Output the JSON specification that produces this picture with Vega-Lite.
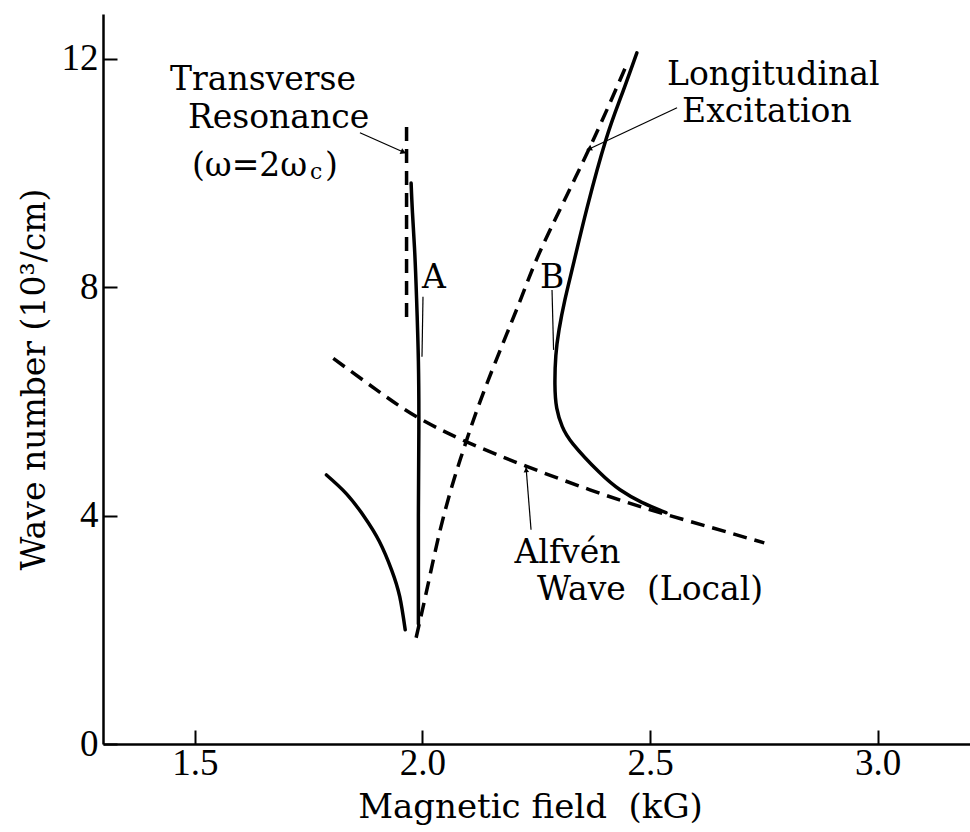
{
  "$schema": "https://vega.github.io/schema/vega-lite/v6.json",
  "width": 867,
  "height": 730,
  "autosize": {"type": "none"},
  "padding": {"left": 103, "top": 14, "right": 0, "bottom": 88},
  "background": "white",
  "config": {
    "view": {"stroke": null},
    "axis": {
      "grid": false,
      "domainColor": "#000",
      "domainWidth": 2.5,
      "tickColor": "#000",
      "tickWidth": 2,
      "tickSize": -14,
      "labelFont": "Liberation Serif",
      "labelFontSize": 37,
      "labelColor": "#000",
      "labelFlush": false,
      "labelOverlap": false,
      "titleFont": "DejaVu Serif",
      "titleFontWeight": "normal",
      "titleColor": "#000"
    }
  },
  "datasets": {
    "solid": [
      {"c": "left", "i": 1, "B": 1.789, "K": 4.71},
      {"c": "left", "i": 2, "B": 1.833, "K": 4.38},
      {"c": "left", "i": 3, "B": 1.872, "K": 3.98},
      {"c": "left", "i": 4, "B": 1.905, "K": 3.55},
      {"c": "left", "i": 5, "B": 1.932, "K": 3.05},
      {"c": "left", "i": 6, "B": 1.950, "K": 2.58},
      {"c": "left", "i": 7, "B": 1.962, "K": 2.0},
      {"c": "A", "i": 1, "B": 1.975, "K": 9.82},
      {"c": "A", "i": 2, "B": 1.978, "K": 9.30},
      {"c": "A", "i": 3, "B": 1.983, "K": 8.6},
      {"c": "A", "i": 4, "B": 1.987, "K": 7.8},
      {"c": "A", "i": 5, "B": 1.991, "K": 6.7},
      {"c": "A", "i": 6, "B": 1.992, "K": 5.5},
      {"c": "A", "i": 7, "B": 1.991, "K": 4.0},
      {"c": "A", "i": 8, "B": 1.991, "K": 2.1},
      {"c": "B", "i": 1, "B": 2.471, "K": 12.10},
      {"c": "B", "i": 2, "B": 2.437, "K": 11.35},
      {"c": "B", "i": 3, "B": 2.403, "K": 10.58},
      {"c": "B", "i": 4, "B": 2.362, "K": 9.40},
      {"c": "B", "i": 5, "B": 2.333, "K": 8.45},
      {"c": "B", "i": 6, "B": 2.313, "K": 7.78},
      {"c": "B", "i": 7, "B": 2.300, "K": 7.25},
      {"c": "B", "i": 8, "B": 2.293, "K": 6.80},
      {"c": "B", "i": 9, "B": 2.291, "K": 6.30},
      {"c": "B", "i": 10, "B": 2.295, "K": 5.88},
      {"c": "B", "i": 11, "B": 2.307, "K": 5.56},
      {"c": "B", "i": 12, "B": 2.331, "K": 5.25},
      {"c": "B", "i": 13, "B": 2.388, "K": 4.76},
      {"c": "B", "i": 14, "B": 2.434, "K": 4.45},
      {"c": "B", "i": 15, "B": 2.482, "K": 4.23},
      {"c": "B", "i": 16, "B": 2.535, "K": 4.05}
    ],
    "dashed": [
      {"c": "alfven", "i": 1, "B": 1.804, "K": 6.75},
      {"c": "alfven", "i": 2, "B": 1.899, "K": 6.20},
      {"c": "alfven", "i": 3, "B": 1.987, "K": 5.73},
      {"c": "alfven", "i": 4, "B": 2.097, "K": 5.29},
      {"c": "alfven", "i": 5, "B": 2.229, "K": 4.86},
      {"c": "alfven", "i": 6, "B": 2.368, "K": 4.45},
      {"c": "alfven", "i": 7, "B": 2.501, "K": 4.10},
      {"c": "alfven", "i": 8, "B": 2.630, "K": 3.80},
      {"c": "alfven", "i": 9, "B": 2.751, "K": 3.52},
      {"c": "rising", "i": 1, "B": 1.986, "K": 1.86},
      {"c": "rising", "i": 2, "B": 2.011, "K": 2.75},
      {"c": "rising", "i": 3, "B": 2.038, "K": 3.72},
      {"c": "rising", "i": 4, "B": 2.068, "K": 4.60},
      {"c": "rising", "i": 5, "B": 2.097, "K": 5.32},
      {"c": "rising", "i": 6, "B": 2.141, "K": 6.30},
      {"c": "rising", "i": 7, "B": 2.214, "K": 7.75},
      {"c": "rising", "i": 8, "B": 2.265, "K": 8.74},
      {"c": "rising", "i": 9, "B": 2.362, "K": 10.35},
      {"c": "rising", "i": 10, "B": 2.449, "K": 11.90},
      {"c": "transverse", "i": 1, "B": 1.965, "K": 10.80},
      {"c": "transverse", "i": 2, "B": 1.965, "K": 7.46}
    ],
    "thin": [
      {"c": "leaderA", "i": 1, "B": 2.0011, "K": 7.83},
      {"c": "leaderA", "i": 2, "B": 1.9989, "K": 6.78},
      {"c": "leaderB", "i": 1, "B": 2.2846, "K": 7.95},
      {"c": "leaderB", "i": 2, "B": 2.2880, "K": 6.90},
      {"c": "arrT", "i": 1, "B": 1.8626, "K": 10.70},
      {"c": "arrT", "i": 2, "B": 1.9615, "K": 10.35},
      {"c": "arrE", "i": 1, "B": 2.5593, "K": 11.14},
      {"c": "arrE", "i": 2, "B": 2.3615, "K": 10.40},
      {"c": "arrA", "i": 1, "B": 2.2385, "K": 3.75},
      {"c": "arrA", "i": 2, "B": 2.2275, "K": 4.85}
    ],
    "heads": [
      {"c": "arrT", "B": 1.9580, "K": 10.36},
      {"c": "arrE", "B": 2.3660, "K": 10.42},
      {"c": "arrA", "B": 2.2278, "K": 4.80}
    ],
    "labels": [
      {"t": "Transverse", "B": 1.4451, "K": 11.45},
      {"t": "Resonance", "B": 1.4846, "K": 10.79},
      {"t": "(ω=2ω", "B": 1.4934, "K": 9.95},
      {"t": ")", "B": 1.7857, "K": 9.95},
      {"t": "Longitudinal", "B": 2.5374, "K": 11.54},
      {"t": "Excitation", "B": 2.5703, "K": 10.89},
      {"t": "A", "B": 1.9989, "K": 7.99},
      {"t": "B", "B": 2.2582, "K": 7.99},
      {"t": "Alfvén", "B": 2.2022, "K": 3.17},
      {"t": "Wave\u00a0 (Local)", "B": 2.2516, "K": 2.52}
    ],
    "sub": [
      {"t": "c", "B": 1.7530, "K": 9.90}
    ]
  },
  "encoding": {
    "x": {
      "field": "B",
      "type": "quantitative",
      "scale": {"domain": [1.298, 3.203], "nice": false, "zero": false},
      "axis": {
        "values": [1.5, 2.0, 2.5, 3.0],
        "format": ".1f",
        "labelPadding": 15,
        "title": "Magnetic field\u00a0 (kG)",
        "titleFontSize": 34,
        "titleX": 427,
        "titleY": 73,
        "titleAlign": "center",
        "titleBaseline": "alphabetic"
      }
    },
    "y": {
      "field": "K",
      "type": "quantitative",
      "scale": {"domain": [0, 12.78], "nice": false, "zero": true},
      "axis": {
        "values": [0, 4, 8, 12],
        "format": "d",
        "labelPadding": 19,
        "title": "Wave number (10³/cm)",
        "titleFontSize": 33,
        "titleAngle": -90,
        "titleX": -59,
        "titleY": 365,
        "titleAlign": "center",
        "titleBaseline": "alphabetic"
      }
    }
  },
  "layer": [
    {
      "data": {"name": "solid"},
      "mark": {"type": "line", "color": "#000", "strokeWidth": 3.5, "interpolate": "natural", "strokeCap": "round"},
      "encoding": {"detail": {"field": "c"}, "order": {"field": "i", "type": "quantitative"}}
    },
    {
      "data": {"name": "dashed"},
      "mark": {"type": "line", "color": "#000", "strokeWidth": 3.5, "strokeDash": [14, 8], "interpolate": "natural"},
      "encoding": {"detail": {"field": "c"}, "order": {"field": "i", "type": "quantitative"}}
    },
    {
      "data": {"name": "thin"},
      "mark": {"type": "line", "color": "#000", "strokeWidth": 1.2},
      "encoding": {"detail": {"field": "c"}, "order": {"field": "i", "type": "quantitative"}}
    },
    {
      "data": {"name": "heads"},
      "transform": [{"filter": "datum.c === 'arrT'"}],
      "mark": {"type": "point", "shape": "triangle-up", "filled": true, "color": "#000", "size": 40, "angle": 114, "opacity": 1}
    },
    {
      "data": {"name": "heads"},
      "transform": [{"filter": "datum.c === 'arrE'"}],
      "mark": {"type": "point", "shape": "triangle-up", "filled": true, "color": "#000", "size": 40, "angle": 245, "opacity": 1}
    },
    {
      "data": {"name": "heads"},
      "transform": [{"filter": "datum.c === 'arrA'"}],
      "mark": {"type": "point", "shape": "triangle-up", "filled": true, "color": "#000", "size": 30, "angle": 355, "opacity": 1}
    },
    {
      "data": {"name": "labels"},
      "mark": {"type": "text", "font": "DejaVu Serif", "fontSize": 33, "align": "left", "baseline": "alphabetic", "color": "#000"},
      "encoding": {"text": {"field": "t"}}
    },
    {
      "data": {"name": "sub"},
      "mark": {"type": "text", "font": "DejaVu Serif", "fontSize": 22, "align": "left", "baseline": "alphabetic", "color": "#000"},
      "encoding": {"text": {"field": "t"}}
    }
  ]
}
